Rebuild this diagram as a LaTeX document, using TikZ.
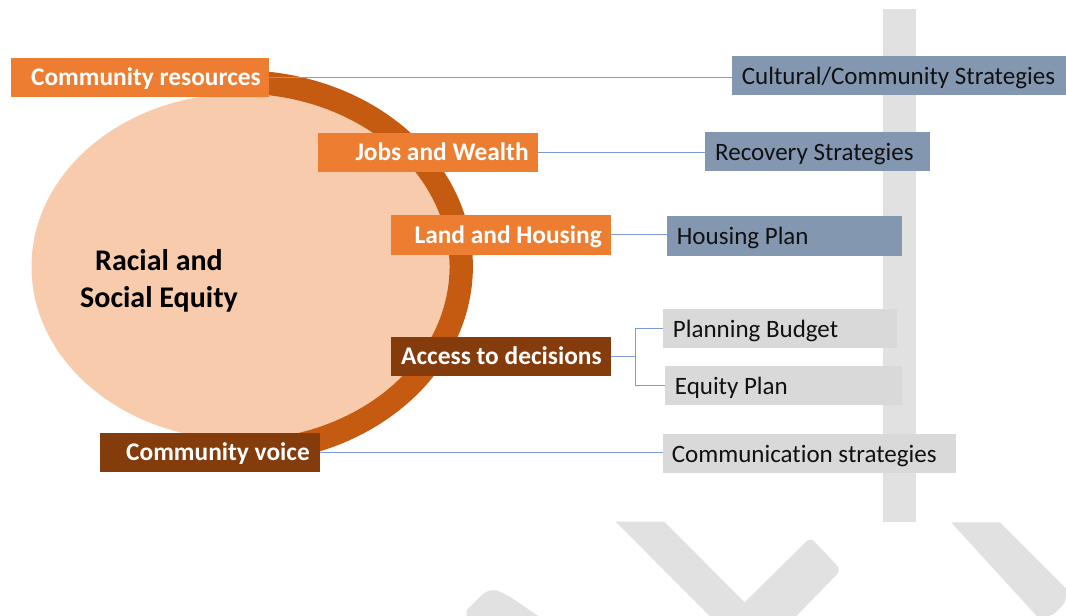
\documentclass[tikz,border=0pt]{standalone}
\usepackage{fontspec}
\setmainfont{Carlito}[Ligatures=NoCommon]
\definecolor{orangeC}{HTML}{ED7D31}
\definecolor{brownC}{HTML}{843C0C}
\definecolor{ringC}{HTML}{C55A11}
\definecolor{fillC}{HTML}{F8CBAD}
\definecolor{slateC}{HTML}{8497B0}
\definecolor{lgreyC}{HTML}{D9D9D9}
\definecolor{barC}{HTML}{E1E1E1}
\definecolor{lineC}{HTML}{7A9BD8}
\definecolor{txtC}{HTML}{111111}
\begin{document}
\begin{tikzpicture}[x=1pt,y=-1pt,
  box/.style={rectangle, inner sep=0pt, anchor=north west, draw=none},
  ltxt/.style={inner sep=0pt, anchor=base east, font=\bfseries\fontsize{25.4}{29}\selectfont, text=white},
  rtxt/.style={inner sep=0pt, anchor=base west, font=\fontsize{25}{29}\selectfont, text=txtC},
  conn/.style={draw=lineC, line width=1pt},
  ring/.style={draw=ringC, line width=23.4pt}
]
\useasboundingbox (0,0) rectangle (1066,616);
% background grey shapes
\fill[barC] (883,8.6) rectangle (916,521.8);
\fill[barC] (615.6,521.7) -- (664.4,521.7) -- (744.6,602.3) [rounded corners=6pt] -- (810.5,537.3) -- (841.2,570) [sharp corners] -- (796.5,616) -- (709.5,616) -- cycle;
\fill[barC] (951,522.3) -- (1000,522.3) -- (1066,588.5) [rounded corners=5pt] -- (1066,602) -- (1052,616) [sharp corners] -- (1036.7,616) -- cycle;
\fill[barC] (466.7,616) -- (466.7,610) [rounded corners=9pt] -- (489,588) -- (505,593.3) [sharp corners] -- (538.3,616) -- cycle;
% central ellipse and ring
\coordinate (ec) at (240.5,266.7);
\fill[fillC] (ec) ellipse [x radius=209pt, y radius=173pt];
\draw[ring] ([shift={(-100:220.7pt and 184.7pt)}]ec) arc[start angle=-100, end angle=100, x radius=220.7pt, y radius=184.7pt];
\node[font=\bfseries\fontsize{30}{36.5}\selectfont, align=center, text=black, inner sep=0pt] (rse) at (159,281) {Racial and\\Social Equity};
% right boxes
\node[box, fill=slateC, minimum width=334.3pt, minimum height=39.3pt] (cs) at (731.7,55.8) {};
\node[box, fill=slateC, minimum width=225pt, minimum height=39.3pt] (rs) at (705,131.6) {};
\node[box, fill=slateC, minimum width=235pt, minimum height=39.4pt] (hp) at (666.7,216) {};
\node[box, fill=lgreyC, minimum width=234pt, minimum height=39pt] (pb) at (662.7,308.3) {};
\node[box, fill=lgreyC, minimum width=237pt, minimum height=39.3pt] (ep) at (664.7,365.7) {};
\node[box, fill=lgreyC, minimum width=293.3pt, minimum height=39pt] (cm) at (662.7,433.3) {};
\node[rtxt] (cst) at ([xshift=10pt, yshift=-9pt]cs.west) {Cultural/Community Strategies};
\node[rtxt] (rst) at ([xshift=10pt, yshift=-9pt]rs.west) {Recovery Strategies};
\node[rtxt] (hpt) at ([xshift=10pt, yshift=-9pt]hp.west) {Housing Plan};
\node[rtxt] (pbt) at ([xshift=10pt, yshift=-9pt]pb.west) {Planning Budget};
\node[rtxt] (ept) at ([xshift=10pt, yshift=-9pt]ep.west) {Equity Plan};
\node[rtxt] (cmt) at ([xshift=9pt, yshift=-9pt]cm.west) {Communication strategies};
% left boxes
\node[box, fill=orangeC, minimum width=257.6pt, minimum height=39.4pt] (cr) at (11,57.3) {};
\node[box, fill=orangeC, minimum width=220.1pt, minimum height=39.4pt] (jw) at (317.8,132.3) {};
\node[box, fill=orangeC, minimum width=219.8pt, minimum height=39.3pt] (lh) at (391.2,215) {};
\node[box, fill=brownC, minimum width=219.8pt, minimum height=39pt] (ad) at (391.2,336.7) {};
\node[box, fill=brownC, minimum width=219.4pt, minimum height=39pt] (cv) at (100.2,432.7) {};
\node[ltxt] (crt) at ([xshift=-8pt, yshift=-8.5pt]cr.east) {Community resources};
\node[ltxt] (jwt) at ([xshift=-9.5pt, yshift=-8.5pt]jw.east) {Jobs and Wealth};
\node[ltxt] (lht) at ([xshift=-9.5pt, yshift=-8.5pt]lh.east) {Land and Housing};
\node[ltxt] (adt) at ([xshift=-9.5pt, yshift=-8.5pt]ad.east) {Access to decisions};
\node[ltxt] (cvt) at ([xshift=-10pt, yshift=-8.5pt]cv.east) {Community voice};
% connectors
\draw[conn] (cr.east) -- (cr.east -| cs.west);
\draw[conn] (jw.east) -- (jw.east -| rs.west);
\draw[conn] (lh.east) -- (lh.east -| hp.west);
\draw[conn] (ad.east) -- ++(24,0) coordinate (elb) |- (pb.west);
\draw[conn] (elb) |- (ep.west);
\draw[conn] (cv.east) -- (cv.east -| cm.west);
\end{tikzpicture}
\end{document}
